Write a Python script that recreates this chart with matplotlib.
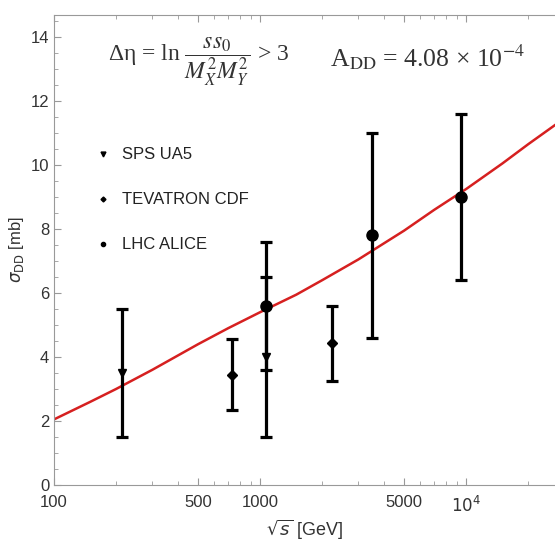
import matplotlib
matplotlib.use('Agg')
import matplotlib.pyplot as plt
from matplotlib.ticker import FixedLocator, MultipleLocator, NullFormatter
from matplotlib.lines import Line2D
import numpy as np

# data
ua5_x = [214, 1070]
ua5_y = [3.5, 4.0]
ua5_err = [2.0, 2.5]

cdf_x = [730, 2240]
cdf_y = [3.45, 4.43]
cdf_err = [1.1, 1.18]

alice_x = [1070, 3500, 9450]
alice_y = [5.6, 7.8, 9.0]
alice_err = [2.0, 3.2, 2.6]

curve_x = [100, 150, 200, 300, 500, 700, 1000, 1500, 2000, 3000, 5000,
           7000, 10000, 15000, 20000, 27000]
curve_y = [2.05, 2.6, 3.0, 3.6, 4.4, 4.9, 5.4, 5.95, 6.4, 7.05, 7.95,
           8.6, 9.25, 10.05, 10.65, 11.25]

x_ticks = [100, 500, 1000, 5000, 10000]
x_ticklabels = ['100', '500', '1000', '5000', r'$10^4$']

plt.rcParams['font.family'] = ['Liberation Sans', 'DejaVu Sans']
grey = '#999999'

fig = plt.figure(figsize=(5.55, 5.49), dpi=100)
ax = fig.add_axes([54/555, 64/549, 1 - 54/555, 470/549])

ax.plot(curve_x, curve_y, color='#d62020', lw=1.8, zorder=2)

ax.errorbar(ua5_x, ua5_y, yerr=ua5_err, fmt='v', color='black', ms=6,
            elinewidth=2.3, capsize=4, capthick=2.3, zorder=3)
ax.errorbar(cdf_x, cdf_y, yerr=cdf_err, fmt='D', color='black', ms=5,
            elinewidth=2.3, capsize=4, capthick=2.3, zorder=3)
ax.errorbar(alice_x, alice_y, yerr=alice_err, fmt='o', color='black', ms=8,
            elinewidth=2.3, capsize=4, capthick=2.3, zorder=3)

ax.set_xscale('log')
ax.set_xlim(100, 27000)
ax.set_ylim(0, 14.69)

ax.xaxis.set_major_locator(FixedLocator(x_ticks))
ax.set_xticklabels(x_ticklabels)
minor = [m * 10**e for e in (2, 3, 4) for m in range(2, 10)]
ax.xaxis.set_minor_locator(FixedLocator(minor))
ax.xaxis.set_minor_formatter(NullFormatter())
ax.yaxis.set_major_locator(MultipleLocator(2))
ax.yaxis.set_minor_locator(MultipleLocator(0.5))

for s in ['left', 'bottom', 'top']:
    ax.spines[s].set_color(grey)
ax.spines['right'].set_visible(False)
ax.tick_params(which='both', direction='in', color=grey, top=True,
               labelsize=12, labelcolor='#333333')
ax.tick_params(which='major', length=5)
ax.tick_params(which='minor', length=3)
ax.tick_params(axis='x', pad=7)

ax.set_xlabel(r'$\sqrt{s}$ [GeV]', fontsize=13, color='#333333', labelpad=2)
ax.set_ylabel(r'$\sigma_{\rm DD}$ [mb]', fontsize=12, color='#333333', labelpad=3)

# formula texts
ax.text(0.107, 0.9, r'Δη = ln $\dfrac{ss_0}{M_X^2M_Y^2}$ > 3',
        transform=ax.transAxes, fontsize=17, family='Liberation Serif',
        math_fontfamily='stix', color='#333333', va='center')
ax.text(0.55, 0.91, r'A$_{\rm DD}$ = 4.08 × 10$^{-4}$',
        transform=ax.transAxes, fontsize=18.5, family='Liberation Serif',
        math_fontfamily='stix', color='#333333', va='center')

handles = [Line2D([], [], ls='none', marker='v', color='black', ms=3.5),
           Line2D([], [], ls='none', marker='D', color='black', ms=2.5),
           Line2D([], [], ls='none', marker='o', color='black', ms=3)]
ax.legend(handles, ['SPS UA5', 'TEVATRON CDF', 'LHC ALICE'],
          loc='upper left', bbox_to_anchor=(0.055, 0.75), frameon=False,
          fontsize=12, labelspacing=1.8, handlelength=0.8, handletextpad=0.7,
          labelcolor='#222222')

fig.savefig('out.png', dpi=100)
